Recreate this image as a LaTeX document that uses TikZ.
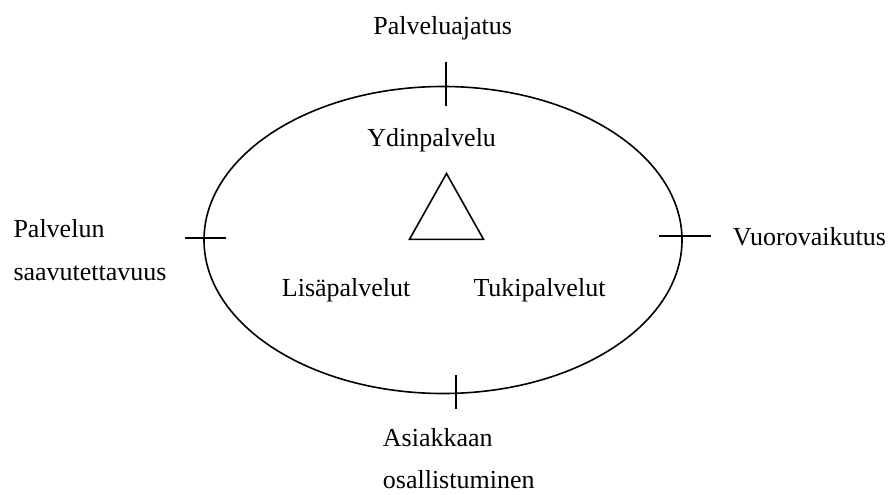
\documentclass[tikz,border=0pt]{standalone}
\usepackage{fontspec}
\setmainfont{Liberation Serif}
\begin{document}
\begin{tikzpicture}[x=1pt,y=-1pt,
  lbl/.style={inner sep=0pt,font=\fontsize{26}{30}\selectfont},
  ln/.style={line width=1.6pt}]
\useasboundingbox (0,0) rectangle (892,495);
\draw[ln] (443,240) ellipse [x radius=239, y radius=153.5];
% ticks
\coordinate (t1) at (446,62); \coordinate (t2) at (446,106);
\coordinate (l1) at (185,238); \coordinate (l2) at (226,238);
\coordinate (r1) at (659,236); \coordinate (r2) at (711,236);
\coordinate (b1) at (456,375); \coordinate (b2) at (456,409);
\draw[ln] (t1) -- (t2);
\draw[ln] (l1) -- (l2);
\draw[ln] (r1) -- (r2);
\draw[ln] (b1) -- (b2);
% triangle
\coordinate (ta) at (446.5,173.5);
\coordinate (tb) at (409.5,239.3);
\coordinate (tc) at (483.5,239.3);
\draw[ln,line join=miter] (ta) -- (tb) -- (tc) -- cycle;
% labels
\node[lbl,anchor=base] (pa) at (442.7,34.3) {Palveluajatus};
\node[lbl,anchor=base] (yd) at (431.7,146.7) {Ydinpalvelu};
\node[lbl,anchor=base west] (pv) at (13.3,237.3) {Palvelun};
\node[lbl,anchor=base west] (sa) at (13.3,280.7) {saavutettavuus};
\node[lbl,anchor=base west] (vu) at (732.7,245) {Vuorovaikutus};
\node[lbl,anchor=base west] (li) at (281.7,296) {Lisäpalvelut};
\node[lbl,anchor=base west] (tu) at (473.3,296) {Tukipalvelut};
\node[lbl,anchor=base west] (as) at (382.7,446) {Asiakkaan};
\node[lbl,anchor=base west] (os) at (382.7,488.3) {osallistuminen};
\end{tikzpicture}
\end{document}
